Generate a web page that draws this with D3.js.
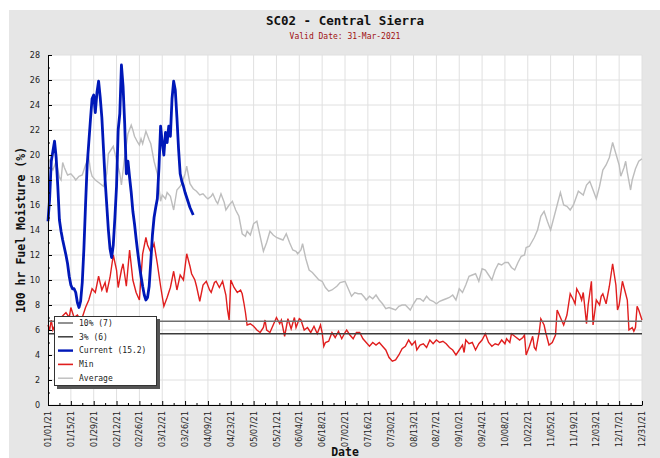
<!DOCTYPE html>
<html>
<head>
    <meta charset="utf-8">
    <title>SC02 - Central Sierra</title>
    <style>
        body { margin: 0; background: #fff; }
        .grid line { stroke: #e0e0e0; stroke-width: 1px; }
        .tick text { font-family: "DejaVu Sans", sans-serif; font-size: 8px; fill: #222; }
        .title { font-family: "DejaVu Sans Mono", monospace; font-weight: bold; font-size: 12.5px; fill: #111; }
        .subtitle { font-family: "DejaVu Sans Mono", monospace; font-size: 8px; fill: #a01010; }
        .axis-title { font-family: "DejaVu Sans Mono", monospace; font-weight: bold; font-size: 11.5px; fill: #111; }
        .legend text { font-family: "DejaVu Sans Mono", monospace; font-size: 8px; fill: #222; }
    </style>
    <script src="https://d3js.org/d3.v7.min.js"></script>
</head>
<body>
<svg id="chart" width="660" height="458"></svg>

<script>
    // daily values of the current year, from 01/01
    var currentVals = [14.7, 16.5, 19.5, 20.3, 21.1, 19.8, 17.5, 14.8, 13.9, 13.2,
        12.6, 12.0, 11.3, 10.3, 9.6, 9.3, 9.3, 9.0, 8.2, 7.8,
        8.3, 9.8, 12.5, 16.0, 19.2, 21.0, 22.8, 24.5, 24.8, 23.4,
        25.0, 25.9, 24.6, 23.0, 20.5, 18.0, 16.0, 14.0, 12.5, 11.8,
        12.8, 15.0, 17.5, 22.0, 23.3, 27.2, 25.5, 22.5, 18.5, 19.5,
        18.2, 17.0, 15.5, 14.5, 13.3, 12.2, 11.2, 10.3, 9.5, 8.8,
        8.4, 8.6, 9.5, 11.5, 13.6, 15.0, 15.8, 16.5, 19.0, 22.3,
        21.0, 20.0, 21.8, 21.0, 22.3, 21.5, 24.5, 25.9, 25.2, 23.0,
        20.5, 18.5, 17.9, 17.5, 17.0, 16.6, 16.2, 15.8, 15.5, 15.2];

    // min series: day of year and value
    var minDays = [0, 1, 2, 3, 5, 8, 11, 13, 14, 16, 18, 20, 21, 23, 25, 27, 29, 31, 33, 35,
        36, 38, 40, 42, 43, 45, 46, 48, 50, 52, 54, 56, 58, 60, 61, 63, 65, 67, 69, 71,
        73, 75, 77, 79, 81, 83, 85, 87, 88, 90, 91, 93, 95, 97, 99, 100, 102, 103, 105, 107,
        109, 110, 111, 112, 114, 116, 118, 119, 120, 121, 122, 124, 126, 128, 130, 132, 133, 134, 136, 138,
        140, 142, 143, 145, 147, 149, 151, 152, 154, 155, 157, 159, 161, 163, 165, 167, 168, 169, 170, 172,
        174, 176, 178, 180, 182, 183, 185, 187, 189, 191, 193, 195, 197, 199, 201, 203, 205, 207, 209, 211,
        213, 215, 217, 219, 221, 223, 225, 226, 228, 230, 232, 234, 236, 238, 240, 242, 244, 246, 248, 250,
        252, 254, 255, 256, 258, 260, 262, 264, 266, 268, 270, 272, 274, 276, 278, 280, 281, 283, 284, 286,
        289, 291, 292, 293, 295, 297, 298, 299, 301, 302, 304, 305, 307, 309, 311, 312, 314, 316, 318, 320,
        322, 323, 324, 326, 327, 328, 330, 331, 333, 334, 336, 338, 339, 340, 342, 344, 346, 348, 349, 350,
        352, 353, 354, 355, 356, 358, 359, 360, 361, 362, 364];
    var minVals = [6.4, 6.0, 6.8, 6.0, 6.6, 7.0, 7.4, 7.0, 7.8, 7.0, 7.2, 6.8, 7.0, 7.8, 8.4, 9.3, 9.0, 10.3, 9.2, 9.8,
        9.0, 10.2, 12.0, 10.8, 9.4, 10.8, 11.3, 9.5, 12.4, 10.0, 9.0, 8.4, 12.1, 13.4, 12.8, 12.2, 12.9, 11.3, 9.5, 7.9,
        8.6, 9.4, 10.7, 9.2, 10.4, 10.0, 12.1, 11.1, 10.5, 10.0, 9.5, 8.3, 9.6, 9.9, 9.2, 9.0, 9.8, 9.9, 9.4, 9.9,
        8.8, 7.6, 6.8, 10.0, 9.4, 9.0, 9.2, 8.9, 8.2, 7.4, 6.4, 6.5, 6.3, 6.0, 5.8, 6.2, 6.8, 6.0, 5.8, 6.4,
        7.0, 6.5, 6.8, 5.5, 6.9, 6.1, 7.0, 6.2, 6.9, 6.8, 6.0, 6.2, 5.8, 6.3, 5.7, 6.4, 5.8, 4.7, 5.0, 5.1,
        5.8, 5.4, 5.9, 5.3, 5.8, 6.0, 5.6, 5.3, 5.8, 5.8, 5.3, 5.0, 4.7, 5.0, 4.8, 5.0, 4.7, 4.4, 3.8, 3.5,
        3.6, 4.0, 4.5, 4.7, 5.2, 4.8, 5.1, 4.4, 4.8, 4.9, 4.6, 5.2, 4.9, 5.2, 5.0, 5.1, 4.9, 4.6, 4.4, 4.0,
        4.4, 4.8, 4.2, 5.2, 4.9, 5.0, 4.4, 4.9, 5.2, 5.7, 5.0, 4.7, 4.9, 4.8, 5.2, 4.9, 5.3, 5.0, 5.7, 5.5,
        5.2, 5.4, 5.6, 4.0, 4.7, 5.5, 4.6, 4.4, 5.8, 6.9, 6.4, 5.8, 4.8, 5.0, 5.6, 7.6, 7.0, 6.4, 7.2, 8.9,
        8.4, 8.1, 9.3, 8.8, 8.4, 9.0, 6.5, 8.0, 9.9, 6.4, 8.4, 8.0, 8.7, 8.9, 8.1, 9.5, 11.3, 9.6, 7.6, 8.0,
        9.9, 9.4, 8.9, 8.4, 6.0, 6.2, 5.9, 6.2, 7.9, 7.6, 6.8];

    // average series: day of year and value
    var avgDays = [0, 1, 2, 3, 5, 7, 8, 9, 10, 12, 14, 16, 17, 19, 21, 23, 25, 26, 27, 29,
        31, 34, 36, 37, 39, 40, 42, 44, 45, 47, 49, 51, 52, 53, 55, 56, 57, 58, 60, 62,
        63, 65, 67, 69, 70, 72, 73, 75, 77, 79, 81, 82, 84, 85, 87, 89, 91, 93, 95, 97,
        98, 100, 101, 103, 104, 106, 108, 109, 111, 113, 115, 117, 119, 121, 122, 124, 126, 128, 130, 132,
        134, 136, 138, 140, 142, 144, 146, 148, 150, 152, 153, 155, 156, 158, 160, 162, 164, 166, 168, 170,
        172, 174, 176, 177, 179, 182, 184, 186, 188, 190, 192, 194, 195, 197, 199, 201, 203, 205, 207, 209,
        211, 213, 215, 217, 219, 222, 224, 226, 228, 230, 232, 234, 236, 238, 240, 242, 244, 246, 248, 250,
        252, 254, 256, 258, 260, 262, 264, 266, 268, 270, 272, 274, 276, 278, 280, 282, 284, 286, 288, 290,
        292, 293, 295, 298, 300, 302, 304, 306, 308, 310, 312, 314, 316, 318, 320, 322, 325, 328, 330, 332,
        334, 336, 338, 340, 342, 344, 346, 348, 350, 351, 353, 354, 355, 357, 358, 360, 361, 362, 364];
    var avgVals = [19.5, 19.6, 19.0, 18.8, 19.5, 18.2, 18.0, 19.4, 19.0, 18.4, 18.5, 18.2, 18.0, 18.3, 18.4, 19.2, 19.8, 18.8, 18.3, 18.0,
        17.8, 17.5, 18.5, 20.1, 20.5, 20.7, 19.6, 18.5, 17.6, 19.9, 21.7, 22.4, 22.0, 21.5, 21.0, 20.8, 21.3, 20.9, 21.9, 21.2,
        20.9, 19.5, 18.5, 16.3, 16.8, 16.5, 17.0, 16.7, 15.6, 17.2, 17.5, 17.7, 18.5, 19.1, 17.7, 17.3, 17.1, 16.8, 16.9, 16.6,
        16.5, 16.7, 16.9, 16.3, 16.1, 16.9, 16.2, 15.6, 16.0, 16.3, 15.6, 15.1, 13.7, 13.5, 13.9, 13.6, 14.5, 14.7, 13.5, 12.3,
        13.0, 13.9, 13.6, 13.4, 13.3, 13.2, 13.7, 13.0, 12.4, 12.3, 12.1, 12.4, 12.9, 11.7, 10.8, 10.6, 10.3, 10.0, 9.9, 9.4,
        9.1, 9.2, 9.4, 9.5, 9.8, 9.9, 9.3, 8.7, 9.0, 8.9, 8.9, 8.6, 8.4, 8.7, 8.5, 8.8, 8.4, 8.1, 7.7, 7.8,
        7.7, 7.6, 7.9, 8.0, 8.0, 7.6, 8.1, 8.5, 8.5, 8.3, 8.7, 8.4, 8.3, 8.1, 8.3, 8.4, 8.5, 8.6, 8.8, 8.4,
        9.3, 9.0, 9.6, 10.3, 10.4, 10.5, 9.9, 10.9, 10.8, 10.4, 10.0, 10.8, 11.3, 11.2, 11.4, 11.4, 11.0, 10.8, 11.4, 11.9,
        12.0, 12.6, 12.7, 13.4, 14.0, 15.1, 15.5, 14.7, 14.0, 15.0, 16.0, 17.0, 16.0, 15.9, 15.6, 16.0, 17.1, 16.8, 17.6, 17.9,
        17.2, 16.5, 17.5, 18.8, 19.2, 19.8, 21.0, 20.1, 19.2, 18.3, 19.0, 19.5, 18.6, 17.2, 18.0, 18.9, 19.2, 19.5, 19.7];

    var refLevels = [6.7, 5.7];
    var legendLabels = ["10% (7)", "3% (6)", "Current (15.2)", "Min", "Average"];
    var yTicks = [0, 2, 4, 6, 8, 10, 12, 14, 16, 18, 20, 22, 24, 26, 28];

    var svg = d3.select("#chart");
    var margin = { left: 48, right: 18, top: 55, bottom: 53 };
    var width = 660, height = 458;

    var start = new Date(Date.UTC(2021, 0, 1));
    var end = new Date(Date.UTC(2021, 11, 31));
    function dayDate(d) { return d3.utcDay.offset(start, d); }

    var x = d3.scaleUtc().domain([start, end]).range([margin.left, width - margin.right]);
    var y = d3.scaleLinear().domain([0, 28]).range([height - margin.bottom, margin.top]);

    var majorDates = d3.range(0, 365, 14).map(dayDate);
    var minorDates = d3.range(7, 365, 14).map(dayDate);

    // panel background
    svg.append("rect").attr("x", 9).attr("y", 10).attr("width", width - 9).attr("height", height - 10)
        .attr("fill", "#e6e6e6");
    svg.append("rect").attr("x", margin.left).attr("y", margin.top)
        .attr("width", width - margin.right - margin.left).attr("height", height - margin.bottom - margin.top)
        .attr("fill", "#fff");

    // grid
    var grid = svg.append("g").attr("class", "grid");
    grid.selectAll(".gy").data(yTicks).enter().append("line")
        .attr("x1", margin.left).attr("x2", width - margin.right)
        .attr("y1", function(d) { return y(d); }).attr("y2", function(d) { return y(d); });
    grid.selectAll(".gx").data(majorDates).enter().append("line")
        .attr("y1", margin.top).attr("y2", height - margin.bottom)
        .attr("x1", function(d) { return x(d); }).attr("x2", function(d) { return x(d); });

    // titles
    var cx = (margin.left + width - margin.right) / 2;
    svg.append("text").attr("class", "title").attr("x", cx).attr("y", 25).attr("text-anchor", "middle")
        .text("SC02 - Central Sierra");
    svg.append("text").attr("class", "subtitle").attr("x", cx).attr("y", 39).attr("text-anchor", "middle")
        .text("Valid Date: 31-Mar-2021");
    svg.append("text").attr("class", "axis-title").attr("text-anchor", "middle")
        .attr("transform", "translate(25," + ((margin.top + height - margin.bottom) / 2) + ") rotate(-90)")
        .text("100 hr Fuel Moisture (%)");
    svg.append("text").attr("class", "axis-title").attr("x", cx).attr("y", 456).attr("text-anchor", "middle")
        .text("Date");

    // lines
    var line = d3.line()
        .x(function(d) { return x(dayDate(d[0])); })
        .y(function(d) { return y(d[1]); });

    var avgData = avgDays.map(function(d, i) { return [d, avgVals[i]]; });
    var minData = minDays.map(function(d, i) { return [d, minVals[i]]; });
    var curData = currentVals.map(function(v, i) { return [i, v]; });

    svg.append("path").datum(avgData).attr("d", line)
        .attr("fill", "none").attr("stroke", "#bdbdbd").attr("stroke-width", 1.4);
    svg.append("path").datum(minData).attr("d", line)
        .attr("fill", "none").attr("stroke", "#e01e1e").attr("stroke-width", 1.4);

    var refColors = ["#6e6e6e", "#3c3c3c"];
    svg.selectAll(".ref").data(refLevels).enter().append("line")
        .attr("x1", margin.left).attr("x2", width - margin.right)
        .attr("y1", function(d) { return y(d); }).attr("y2", function(d) { return y(d); })
        .attr("stroke", function(d, i) { return refColors[i]; }).attr("stroke-width", 1.5);

    svg.append("path").datum(curData).attr("d", line)
        .attr("fill", "none").attr("stroke", "#0018b8").attr("stroke-width", 2.8)
        .attr("stroke-linejoin", "round");

    // axes
    svg.append("g").attr("transform", "translate(" + margin.left + ",0)")
        .call(d3.axisLeft(y).tickValues(yTicks).tickSizeInner(-4).tickSizeOuter(0).tickPadding(8));
    svg.append("g").attr("transform", "translate(" + margin.left + ",0)")
        .call(d3.axisLeft(y).tickValues(d3.range(1, 28, 2)).tickSize(-2).tickFormat(""))
        .select(".domain").remove();

    var xAxis = svg.append("g").attr("transform", "translate(0," + (height - margin.bottom) + ")")
        .call(d3.axisBottom(x).tickValues(majorDates).tickSizeInner(-4).tickSizeOuter(0)
            .tickFormat(d3.utcFormat("%m/%d/%y")));
    xAxis.selectAll("text")
        .attr("transform", "rotate(-90)")
        .attr("text-anchor", "end")
        .attr("x", -6).attr("y", 0).attr("dy", "0.32em");
    svg.append("g").attr("transform", "translate(0," + (height - margin.bottom) + ")")
        .call(d3.axisBottom(x).tickValues(minorDates).tickSize(-2).tickFormat(""))
        .select(".domain").remove();

    svg.selectAll(".domain").attr("stroke", "#000");
    svg.selectAll(".tick line").attr("stroke", "#000");

    // legend
    var lg = svg.append("g").attr("class", "legend");
    lg.append("rect").attr("x", 57).attr("y", 319).attr("width", 103).attr("height", 70).attr("fill", "#555");
    lg.append("rect").attr("x", 54.5).attr("y", 316.5).attr("width", 102).attr("height", 69)
        .attr("fill", "#fff").attr("stroke", "#333").attr("stroke-width", 1);
    var lgColors = ["#6e6e6e", "#3c3c3c", "#0018b8", "#e01e1e", "#bdbdbd"];
    var lgWidths = [1.5, 1.5, 2.4, 1.6, 1.4];
    legendLabels.forEach(function(t, i) {
        var ly = 323 + i * 13.8;
        lg.append("line").attr("x1", 58).attr("x2", 73).attr("y1", ly).attr("y2", ly)
            .attr("stroke", lgColors[i]).attr("stroke-width", lgWidths[i]);
        lg.append("text").attr("x", 79).attr("y", ly).attr("dy", "0.35em").text(t);
    });
</script>
</body>
</html>
